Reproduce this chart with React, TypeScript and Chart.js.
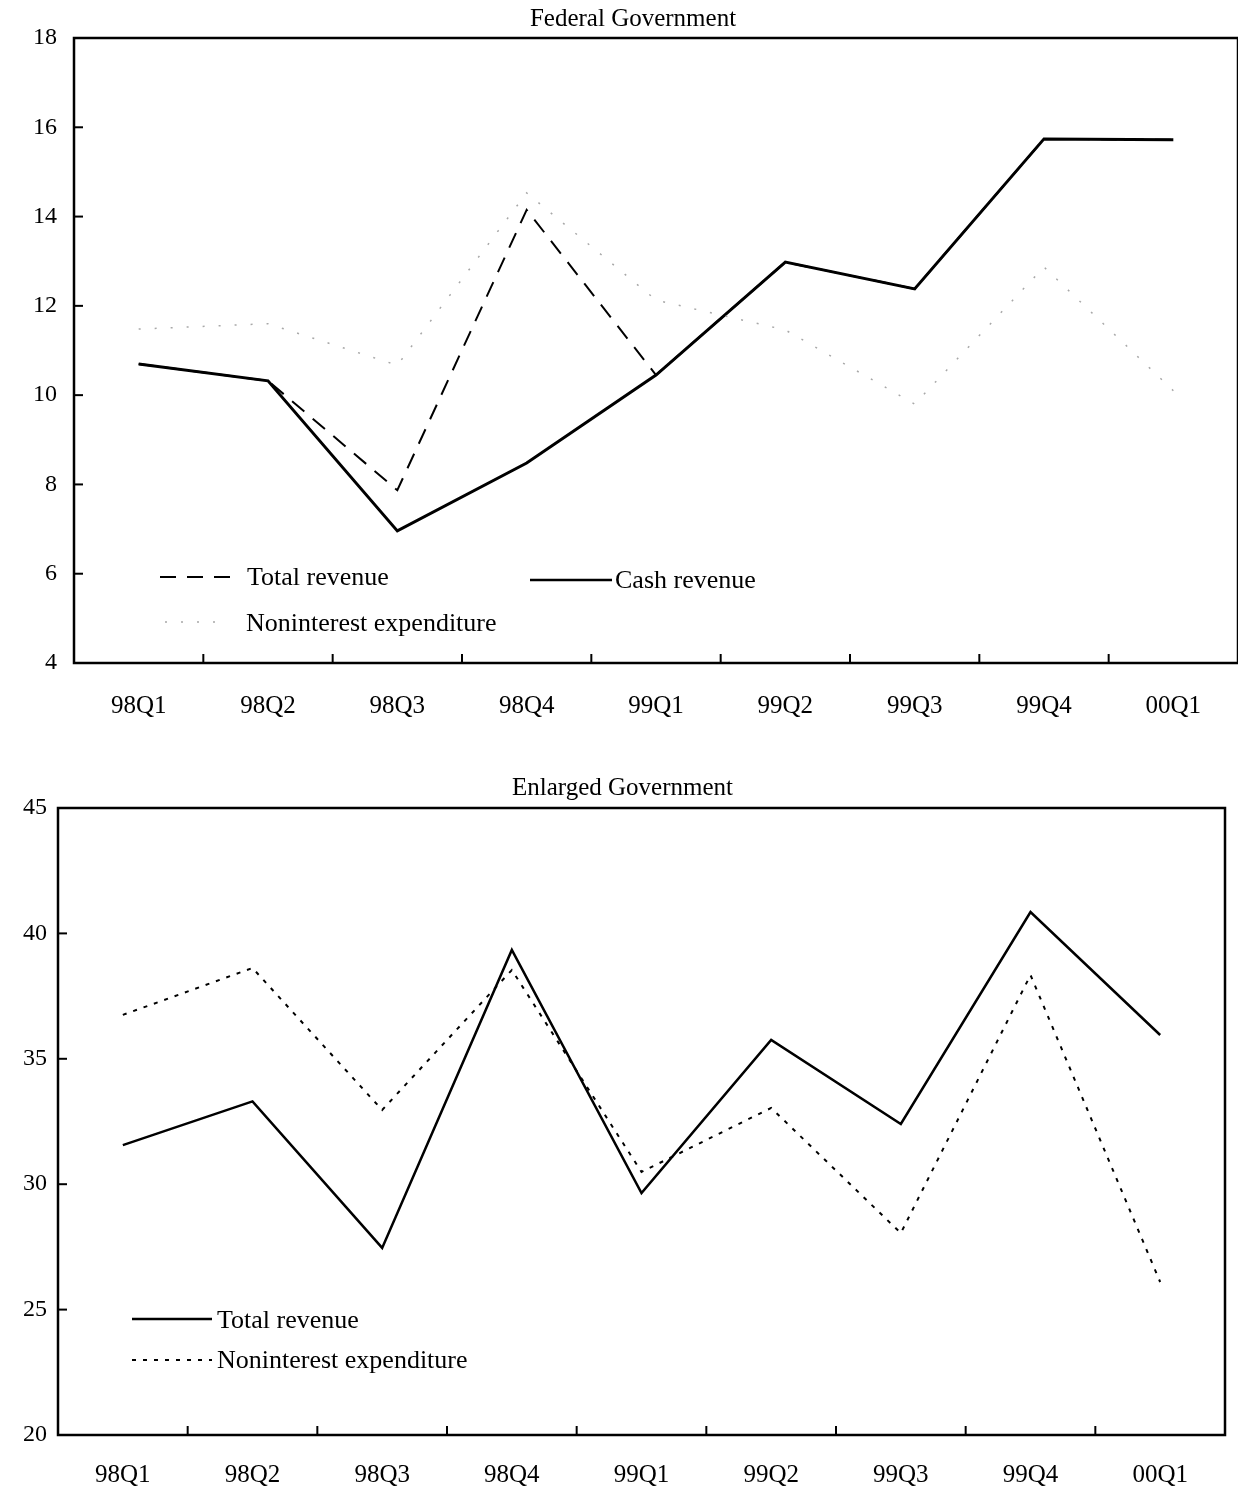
import React, { useEffect, useRef } from "react";
import { Chart, registerables } from "chart.js";
Chart.register(...registerables);

const quarters = ["98Q1", "98Q2", "98Q3", "98Q4", "99Q1", "99Q2", "99Q3", "99Q4", "00Q1"];
const fedTotalRevenue = [10.7, 10.32, 7.87, 14.15, 10.45, 12.98, 12.38, 15.74, 15.72];
const fedCashRevenue = [10.7, 10.32, 6.96, 8.48, 10.45, 12.98, 12.38, 15.74, 15.72];
const fedNoninterestExp = [11.48, 11.6, 10.67, 14.53, 12.13, 11.46, 9.8, 12.87, 10.1];
const enlTotalRevenue = [31.56, 33.3, 27.46, 39.34, 29.65, 35.75, 32.4, 40.85, 35.95];
const enlNoninterestExp = [36.75, 38.62, 32.96, 38.54, 30.49, 33.04, 28.05, 38.34, 26.1];

const FONT = "'Liberation Serif', 'Times New Roman', serif";

type LegendItem = { x1: number; x2: number; y: number; tx: number; ty: number; text: string; dash: number[]; width: number; color: string };

function makeDecor(items: LegendItem[]) {
  return {
    id: "decor",
    afterDraw(chart: any) {
      const ctx = chart.ctx;
      const a = chart.chartArea;
      const xs = chart.scales.x;
      const ys = chart.scales.y;
      ctx.save();
      ctx.strokeStyle = "#000";
      ctx.lineWidth = 2.5;
      ctx.setLineDash([]);
      ctx.strokeRect(a.left, a.top, a.right - a.left, a.bottom - a.top);
      ctx.lineWidth = 2;
      for (let i = 0; i < quarters.length - 1; i++) {
        const px = (xs.getPixelForValue(i) + xs.getPixelForValue(i + 1)) / 2;
        ctx.beginPath();
        ctx.moveTo(px, a.bottom);
        ctx.lineTo(px, a.bottom - 9);
        ctx.stroke();
      }
      ys.ticks.forEach((t: any) => {
        const py = ys.getPixelForValue(t.value);
        ctx.beginPath();
        ctx.moveTo(a.left, py);
        ctx.lineTo(a.left + 9, py);
        ctx.stroke();
      });
      items.forEach((it) => {
        ctx.strokeStyle = it.color;
        ctx.lineWidth = it.width;
        ctx.setLineDash(it.dash);
        ctx.beginPath();
        ctx.moveTo(it.x1, it.y);
        ctx.lineTo(it.x2, it.y);
        ctx.stroke();
        ctx.setLineDash([]);
        ctx.fillStyle = "#000";
        ctx.font = `26px ${FONT}`;
        ctx.textBaseline = "middle";
        ctx.textAlign = "left";
        ctx.fillText(it.text, it.tx, it.ty);
      });
      ctx.restore();
    },
  };
}

function makeOptions(title: string, padTop: number, padBottom: number, yMin: number, yMax: number, yStep: number, yWidth: number, xHeight: number, padLeft: number, padRight: number, yPad: number, xPad: number) {
  return {
    responsive: false,
    animation: false as const,
    layout: { padding: { top: 0, right: padRight, left: padLeft, bottom: 0 } },
    plugins: {
      legend: { display: false },
      tooltip: { enabled: false },
      title: {
        display: true,
        text: title,
        color: "#000",
        font: { family: FONT, size: 25, weight: "normal" as const, lineHeight: 1.2 },
        padding: { top: padTop, bottom: padBottom },
      },
    },
    scales: {
      x: {
        type: "category" as const,
        offset: true,
        grid: { display: false, drawTicks: false, offset: true },
        border: { display: false },
        ticks: { color: "#000", font: { family: FONT, size: 25 }, padding: xPad, maxRotation: 0, autoSkip: false },
        afterFit: (s: any) => { s.height = xHeight; },
      },
      y: {
        min: yMin,
        max: yMax,
        grid: { display: false, drawTicks: false },
        border: { display: false },
        ticks: { stepSize: yStep, color: "#000", font: { family: FONT, size: 24 }, padding: yPad },
        afterFit: (s: any) => { s.width = yWidth; },
      },
    },
  };
}

function FedChart() {
  const ref = useRef<HTMLCanvasElement>(null);
  useEffect(() => {
    const chart = new Chart(ref.current!, {
      type: "line",
      data: {
        labels: quarters,
        datasets: [
          { label: "Noninterest expenditure", data: fedNoninterestExp, borderColor: "#a8a8a8", borderWidth: 1.5, borderDash: [2, 14], pointRadius: 0, tension: 0, fill: false },
          { label: "Cash revenue", data: fedCashRevenue, borderColor: "#000", borderWidth: 3, pointRadius: 0, tension: 0, fill: false },
          { label: "Total revenue", data: fedTotalRevenue, borderColor: "#000", borderWidth: 2, borderDash: [16, 11], pointRadius: 0, tension: 0, fill: false },
        ],
      },
      options: makeOptions("Federal Government", 4, 4, 4, 18, 2, 46, 77, 28, 0, 17, 28) as any,
      plugins: [
        makeDecor([
          { x1: 160, x2: 236, y: 577, tx: 247, ty: 578, text: "Total revenue", dash: [16, 11], width: 2, color: "#000" },
          { x1: 530, x2: 612, y: 580, tx: 615, ty: 581, text: "Cash revenue", dash: [], width: 2.5, color: "#000" },
          { x1: 165, x2: 222, y: 622, tx: 246, ty: 624, text: "Noninterest expenditure", dash: [2, 14], width: 1.5, color: "#a8a8a8" },
        ]),
      ],
    });
    return () => chart.destroy();
  }, []);
  return <canvas ref={ref} width={1238} height={740} style={{ display: "block", position: "absolute", left: 0, top: 0 }} />;
}

function EnlChart() {
  const ref = useRef<HTMLCanvasElement>(null);
  useEffect(() => {
    const chart = new Chart(ref.current!, {
      type: "line",
      data: {
        labels: quarters,
        datasets: [
          { label: "Noninterest expenditure", data: enlNoninterestExp, borderColor: "#000", borderWidth: 2, borderDash: [4, 7], pointRadius: 0, tension: 0, fill: false },
          { label: "Total revenue", data: enlTotalRevenue, borderColor: "#000", borderWidth: 2.5, pointRadius: 0, tension: 0, fill: false },
        ],
      },
      options: makeOptions("Enlarged Government", 13, 5, 20, 45, 5, 38, 63, 20, 13, 11, 25) as any,
      plugins: [
        makeDecor([
          { x1: 132, x2: 212, y: 559, tx: 217, ty: 561, text: "Total revenue", dash: [], width: 2.5, color: "#000" },
          { x1: 132, x2: 212, y: 600, tx: 217, ty: 601, text: "Noninterest expenditure", dash: [4, 7], width: 2, color: "#000" },
        ]),
      ],
    });
    return () => chart.destroy();
  }, []);
  return <canvas ref={ref} width={1238} height={738} style={{ display: "block", position: "absolute", left: 0, top: 760 }} />;
}

export default function App() {
  return (
    <div style={{ position: "absolute", left: 0, top: 0, width: 1238, height: 1498, background: "#fff", overflow: "hidden" }}>
      <FedChart />
      <EnlChart />
    </div>
  );
}
